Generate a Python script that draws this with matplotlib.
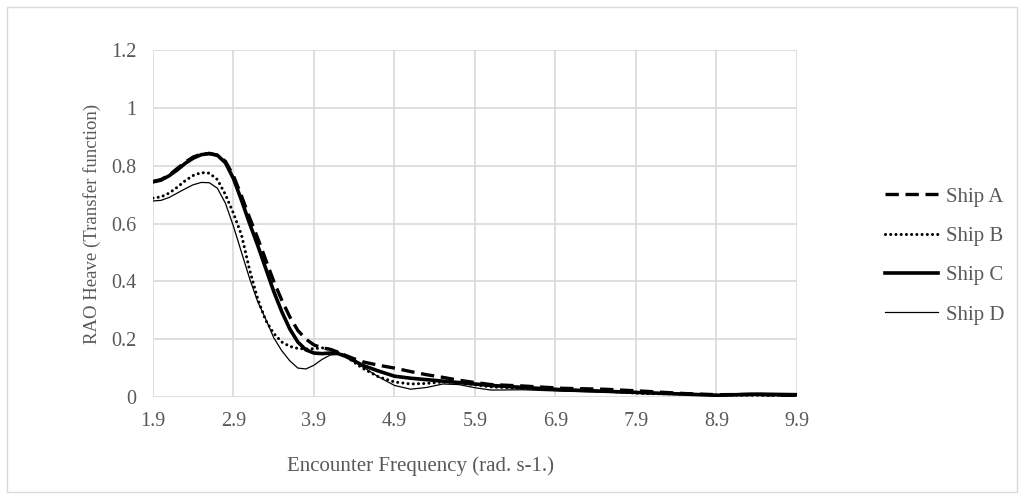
import matplotlib.pyplot as plt
from matplotlib.patches import Rectangle

plt.rcParams['font.family'] = ['Liberation Serif', 'DejaVu Serif']

freq = [1.9, 2.0, 2.1, 2.2, 2.3, 2.4, 2.5, 2.6, 2.7, 2.8, 2.9, 3.0, 3.1, 3.2, 3.3,
        3.4, 3.5, 3.6, 3.7, 3.8, 3.9, 4.0, 4.1, 4.2, 4.3, 4.4, 4.5, 4.7, 4.9, 5.1,
        5.3, 5.5, 5.7, 5.9, 6.1, 6.5, 7.0, 7.5, 8.0, 8.5, 8.9, 9.4, 9.9]

ship_a = [0.745, 0.752, 0.767, 0.79, 0.812, 0.83, 0.84, 0.842, 0.836, 0.815, 0.765, 0.695, 0.62, 0.55, 0.475,
          0.40, 0.335, 0.277, 0.23, 0.20, 0.18, 0.17, 0.165, 0.155, 0.143, 0.132, 0.122, 0.11, 0.10, 0.088,
          0.077, 0.068, 0.058, 0.05, 0.043, 0.038, 0.03, 0.027, 0.02, 0.012, 0.008, 0.009, 0.005]
ship_b = [0.688, 0.692, 0.705, 0.725, 0.748, 0.766, 0.776, 0.774, 0.752, 0.70, 0.635, 0.56, 0.44, 0.34, 0.265,
          0.22, 0.19, 0.175, 0.168, 0.166, 0.167, 0.17, 0.165, 0.155, 0.14, 0.12, 0.10, 0.07, 0.052, 0.045,
          0.047, 0.052, 0.05, 0.042, 0.035, 0.03, 0.025, 0.02, 0.012, 0.01, 0.007, 0.006, 0.005]
ship_c = [0.744, 0.75, 0.765, 0.785, 0.808, 0.826, 0.838, 0.842, 0.836, 0.81, 0.755, 0.68, 0.60, 0.525, 0.445,
          0.365, 0.295, 0.235, 0.19, 0.163, 0.152, 0.15, 0.152, 0.15, 0.14, 0.125, 0.11, 0.09, 0.072, 0.065,
          0.06, 0.055, 0.05, 0.045, 0.04, 0.033, 0.025, 0.02, 0.015, 0.01, 0.006, 0.01, 0.008]
ship_d = [0.678, 0.68, 0.69, 0.705, 0.72, 0.734, 0.742, 0.741, 0.722, 0.67, 0.59, 0.50, 0.41, 0.33, 0.27,
          0.205, 0.16, 0.125, 0.10, 0.097, 0.11, 0.13, 0.145, 0.148, 0.14, 0.125, 0.105, 0.07, 0.04, 0.027,
          0.033, 0.045, 0.043, 0.032, 0.024, 0.025, 0.02, 0.017, 0.012, 0.008, 0.005, 0.005, 0.004]

x_ticks = [1.9, 2.9, 3.9, 4.9, 5.9, 6.9, 7.9, 8.9, 9.9]
y_ticks = [0, 0.2, 0.4, 0.6, 0.8, 1.0, 1.2]
y_labels = ['0', '0.2', '0.4', '0.6', '0.8', '1', '1.2']

fig = plt.figure(figsize=(10.24, 4.99), dpi=100)
ax = fig.add_axes([0.1494, 0.2044, 0.6289, 0.6954])

ax.plot(freq, ship_a, color='black', lw=2.4, dashes=(4, 2), dash_capstyle='butt', label='Ship A')
ax.plot(freq, ship_b, color='black', lw=2.2, dashes=(0.01, 1.7), dash_capstyle='round', label='Ship B')
ax.plot(freq, ship_c, color='black', lw=2.6, label='Ship C')
ax.plot(freq, ship_d, color='black', lw=0.9, label='Ship D')

ax.set_xlim(1.9, 9.9)
ax.set_ylim(0, 1.2)
ax.set_xticks(x_ticks)
ax.set_xticklabels([str(v) for v in x_ticks])
ax.set_yticks(y_ticks)
ax.set_yticklabels(y_labels)
ax.grid(True, color='#d9d9d9', lw=1.2)
ax.set_axisbelow(True)
for s in ax.spines.values():
    s.set_visible(False)
ax.tick_params(length=0, labelsize=14.5, labelcolor='#595959')
ax.tick_params(axis='x', pad=11)
ax.tick_params(axis='y', pad=12)

fig.text(0.09, 0.552, 'RAO Heave (Transfer function)', fontsize=13.5, color='#595959',
         ha='center', va='center', rotation=90)
fig.text(0.411, 0.066, 'Encounter Frequency (rad. s-1.)', fontsize=15, color='#595959',
         ha='center', va='center')

leg = ax.legend(loc='center left', bbox_to_anchor=(1.137, 0.407), frameon=False,
                borderpad=0, borderaxespad=0, handlelength=2.55, handletextpad=0.35,
                labelspacing=0.95, fontsize=15)
for t in leg.get_texts():
    t.set_color('#595959')

fig.patches.append(Rectangle((0.007, 0.014), 0.986, 0.972, transform=fig.transFigure,
                             fill=False, edgecolor='#d9d9d9', lw=1))

fig.savefig('out.png', dpi=100)
